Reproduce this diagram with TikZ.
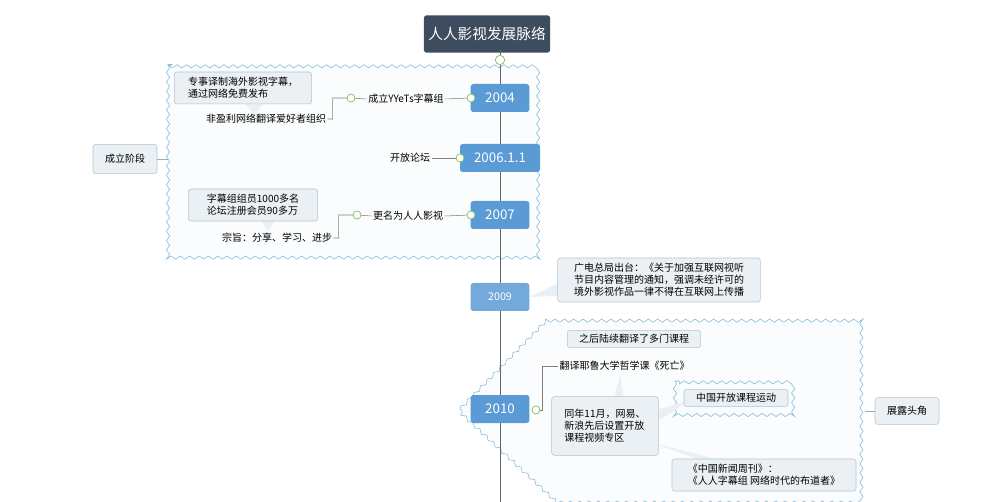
\documentclass[tikz,border=0pt]{standalone}
\usepackage{fontspec}
\newfontfamily\cjk{Noto Sans CJK SC}
\usetikzlibrary{decorations.pathmorphing}
\definecolor{yearblue}{HTML}{5B9BD5}
\definecolor{titlebg}{HTML}{3D4C5F}
\definecolor{notefill}{HTML}{EAF0F4}
\definecolor{notedraw}{HTML}{B4C4D0}
\definecolor{wave}{HTML}{7FB6D6}
\definecolor{knob}{HTML}{8CC46A}
\tikzset{
  year/.style={fill=yearblue, rounded corners=2pt, text=white, font=\cjk\fontsize{10}{12}\selectfont, minimum height=21pt, inner sep=0pt},
  note/.style={fill=notefill, draw=notedraw, rounded corners=2pt, font=\cjk\fontsize{7.5}{9}\selectfont, align=left, inner sep=4pt},
  plain/.style={font=\cjk\fontsize{7.5}{9}\selectfont, inner sep=1pt},
  wavy/.style={draw=wave, fill=white!96!wave, decorate, decoration={snake, segment length=7pt, amplitude=1.2pt}},
  knobby/.style={draw=knob, fill=white, line width=0.6pt}
}
\begin{document}
\begin{tikzpicture}[x=0.75pt, y=-0.75pt]
		\useasboundingbox (0, 0) rectangle (1000, 502);

		% boundaries
		\path[wavy] (168, 65) rectangle (545, 255);
		\path[wavy] (460, 409) -- (545, 322) -- (865, 322) -- (865, 502) -- (560, 502) -- cycle;
		\path[wavy] (675, 381) rectangle (795, 415);

		% spine
		\node[fill=titlebg, rounded corners=2pt, text=white, font=\cjk\fontsize{11}{13}\selectfont, minimum width=90pt, minimum height=28pt] (title) at (487, 34) {人人影视发展脉络};
		\coordinate (bottom) at (500, 502);
		\draw[gray!80!black, line width=0.6pt] (500, 50) -- (bottom);
		\draw[knobby] (500, 60) circle (3.5pt);

		% years
		\node[year, minimum width=44pt] (y2004) at (500, 98) {2004};
		\node[year, minimum width=60pt] (y2006) at (500, 158) {2006.1.1};
		\node[year, minimum width=44pt] (y2007) at (500, 215) {2007};
		\node[year, minimum width=44pt, font=\cjk\fontsize{8}{10}\selectfont, fill=yearblue!85] (y2009) at (500, 297) {2009};
		\node[year, minimum width=44pt] (y2010) at (500, 409) {2010};

		% stage labels
		\node[note, minimum width=48pt, minimum height=22pt] (stage1) at (125, 159) {成立阶段};
		\node[note, minimum width=48pt, minimum height=20pt] (stage2) at (907, 411) {展露头角};
		\draw[wave] (stage1.east) -- (168, 159);
		\draw[wave] (865, 411) -- (stage2.west);

		% 2004
		\node[plain] (yyets) at (406, 99) {成立YYeTs字幕组};
		\node[plain] (nonprofit) at (266, 119) {非盈利网络翻译爱好者组织};
		\fill[notefill] (245, 104) -- (255, 115) -- (262, 104) -- cycle;
		\node[note, minimum width=103pt] (subs) at (243, 88) {专事译制海外影视字幕，\\通过网络免费发布};
		\draw[gray] (y2004.west) -- (yyets.east);
		\draw[gray] (nonprofit.east) -- ++(5, 0) |- (351, 98) -- (yyets.west);
		\draw[knobby] (471, 98) circle (3pt);
		\draw[knobby] (351, 98) circle (3pt);

		% 2006
		\node[plain] (forum) at (410, 158) {开放论坛};
		\draw[gray] (y2006.west) -- (forum.east);
		\draw[knobby] (460, 158) circle (3pt);

		% 2007
		\node[plain] (rename) at (408, 216) {更名为人人影视};
		\node[plain] (motto) at (277, 238) {宗旨：分享、学习、进步};
		\fill[notefill] (260, 220) -- (268, 231) -- (275, 220) -- cycle;
		\node[note, minimum width=97pt] (members) at (253, 205) {字幕组组员1000多名\\论坛注册会员90多万};
		\draw[gray] (y2007.west) -- (rename.east);
		\draw[gray] (motto.east) -- ++(5, 0) |- (357, 215) -- (rename.west);
		\draw[knobby] (471, 215) circle (3pt);
		\draw[knobby] (357, 215) circle (3pt);

		% 2009
		\fill[notefill] (y2009.east) -- (558, 283) -- (558, 296) -- cycle;
		\node[note, minimum width=152pt] (notice) at (659, 280) {广电总局出台：《关于加强互联网视听\\节目内容管理的通知，强调未经许可的\\境外影视作品一律不得在互联网上传播};

		% 2010
		\node[note, minimum width=100pt, inner sep=3pt] (later) at (634, 339) {之后陆续翻译了多门课程};
		\node[plain, anchor=west] (yale) at (558, 366) {翻译耶鲁大学哲学课《死亡》};
		\draw[gray] (536, 410) -- (542, 410) |- (yale.west);
		\draw[knobby] (536, 410) circle (3pt);
		\fill[notefill] (620, 375) -- (612, 406) -- (625, 406) -- cycle;
		\fill[notefill] (650, 412) -- (690, 400) -- (660, 420) -- cycle;
		\fill[notefill] (650, 442) -- (700, 460) -- (720, 460) -- cycle;
		\node[note, minimum width=80pt, minimum height=44pt] (netease) at (605, 426) {同年11月，网易、\\新浪先后设置开放\\课程视频专区};
		\node[note, minimum width=78pt, inner sep=3pt] (open) at (736, 398) {中国开放课程运动};
		\node[note, minimum width=138pt] (weekly) at (764, 475) {《中国新闻周刊》：\\《人人字幕组\ 网络时代的布道者》};
	\end{tikzpicture}
\end{document}
